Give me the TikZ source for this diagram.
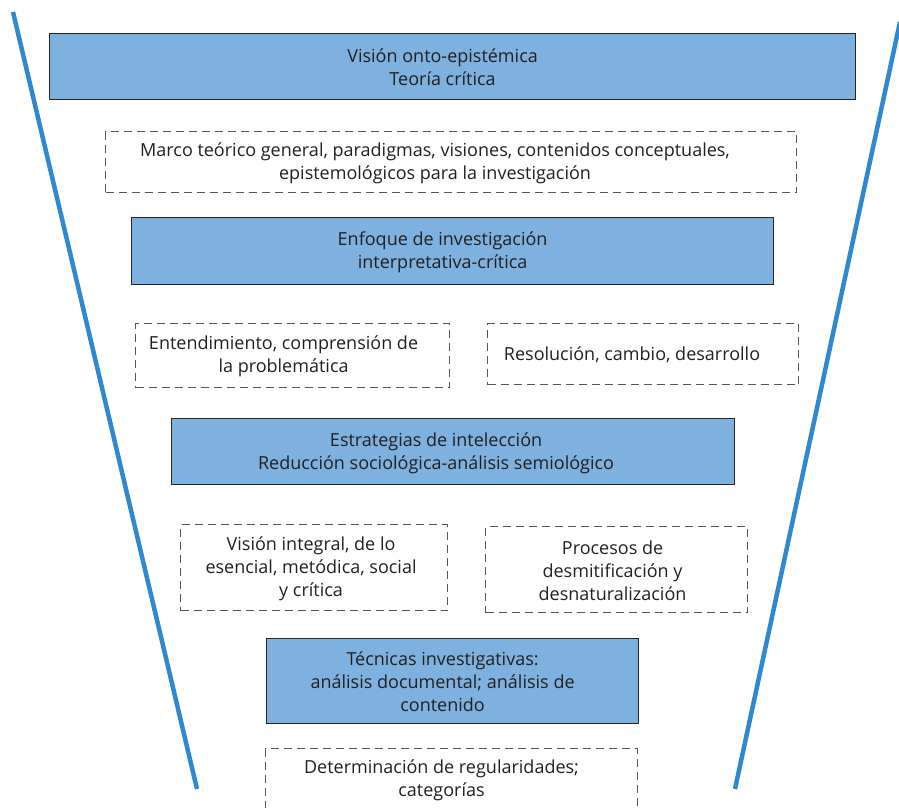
\documentclass[tikz,border=0pt]{standalone}
\usepackage{fontspec}
\setmainfont{Open Sans}
\definecolor{boxblue}{HTML}{7EB1DF}
\definecolor{lineblue}{HTML}{3089CE}
\definecolor{txt}{HTML}{231F20}
\definecolor{dashgray}{HTML}{555555}
\begin{document}
\begin{tikzpicture}[x=1pt,y=-1pt,
  lbl/.style={text=txt,font=\fontsize{18}{23}\selectfont,align=center,inner sep=0pt,anchor=center},
  bluebox/.style={fill=boxblue,draw=black!85,line width=1.2pt,inner sep=0pt,anchor=north west},
  dashbox/.style={draw=dashgray,line width=1.1pt,dash pattern=on 8pt off 5pt,inner sep=0pt,anchor=north west},
  side/.style={draw=lineblue,line width=4.5pt}]
\useasboundingbox (0,0) rectangle (899,808);
\clip (0,0) rectangle (899,808);
\node[bluebox,minimum width=806,minimum height=66] (b1) at (49,33) {};
\node[lbl] (t1) at ([xshift=-10pt,yshift=-1pt]b1.center) {Visión onto-epistémica\\Teoría crítica};
\node[dashbox,minimum width=691,minimum height=61] (d1) at (105,131) {};
\node[lbl] (td1) at ([xshift=-16pt,yshift=-1pt]d1.center) {Marco teórico general, paradigmas, visiones, contenidos conceptuales,\\epistemológicos para la investigación};
\node[bluebox,minimum width=642,minimum height=67] (b2) at (131,217) {};
\node[lbl] (t2) at ([xshift=-10pt,yshift=-1pt]b2.center) {Enfoque de investigación\\interpretativa-crítica};
\node[dashbox,minimum width=314,minimum height=64] (d2) at (135,323) {};
\node[lbl] (td2) at ([xshift=-9pt,yshift=-1pt]d2.center) {Entendimiento, comprensión de\\la problemática};
\node[dashbox,minimum width=311,minimum height=61] (d3) at (487,323) {};
\node[lbl] (td3) at ([xshift=-11pt,yshift=-1pt]d3.center) {Resolución, cambio, desarrollo};
\node[bluebox,minimum width=563,minimum height=66] (b3) at (171,418) {};
\node[lbl] (t3) at ([xshift=-17pt,yshift=-2pt]b3.center) {Estrategias de intelección\\Reducción sociológica-análisis semiológico};
\node[dashbox,minimum width=267,minimum height=86] (d4) at (180,524) {};
\node[lbl] (td4) at ([xshift=-3pt,yshift=-1pt]d4.center) {Visión integral, de lo\\esencial, metódica, social\\y crítica};
\node[dashbox,minimum width=262,minimum height=86] (d5) at (485,526) {};
\node[lbl] (td5) at ([xshift=-4pt,yshift=-1pt]d5.center) {Procesos de\\desmitificación y\\desnaturalización};
\node[bluebox,minimum width=372,minimum height=85] (b4) at (266,638) {};
\node[lbl] (t4) at ([xshift=-10pt,yshift=-1pt]b4.center) {Técnicas investigativas:\\análisis documental; análisis de\\contenido};
\node[dashbox,minimum width=372,minimum height=75] (d6) at (265,748) {};
\node[lbl,anchor=north] (td6) at ([xshift=-10pt,yshift=-11pt]d6.north) {Determinación de regularidades;\\categorías};
\coordinate (lt) at (13,12);
\coordinate (lb) at (197,789);
\coordinate (rt) at (900,22);
\coordinate (rb) at (735,789);
\draw[side] (lt) -- (lb);
\draw[side] (rt) -- (rb);
\end{tikzpicture}
\end{document}
